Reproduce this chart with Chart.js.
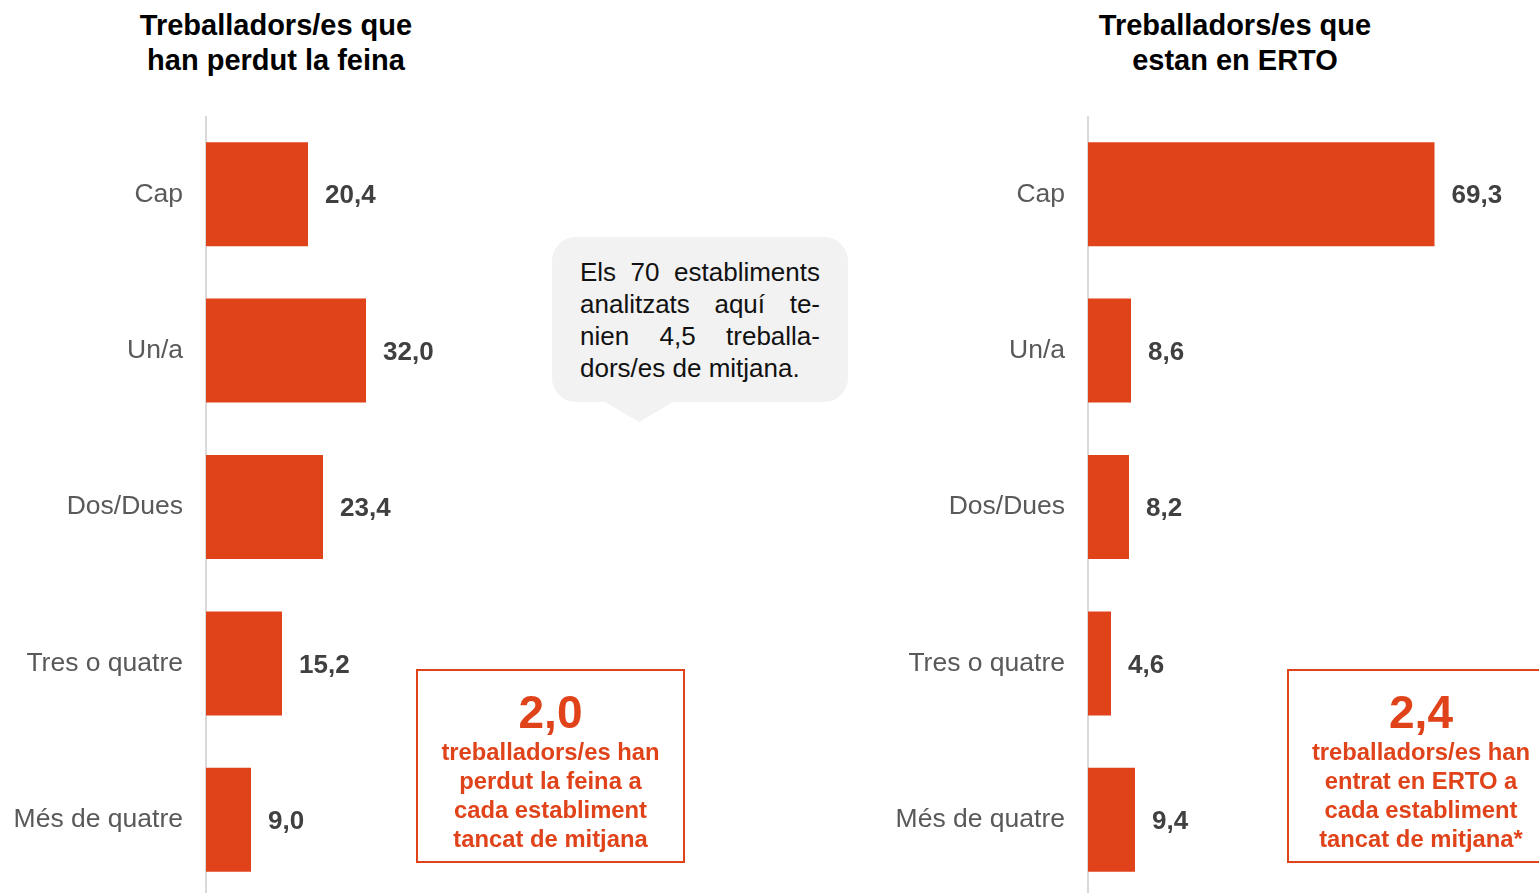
<!DOCTYPE html>
<html>
  <head>
    <meta charset="UTF-8" />
    <title>Treballadors/es</title>
    <script src="https://cdn.jsdelivr.net/npm/chart.js"></script>
    <style>
      html,
      body {
        margin: 0;
        padding: 0;
        width: 1539px;
        height: 893px;
        overflow: hidden;
        background: #fff;
        font-family: "Liberation Sans", Arial, sans-serif;
      }

      .title {
        position: absolute;
        top: 8px;
        width: 400px;
        text-align: center;
        font-weight: bold;
        font-size: 29px;
        line-height: 35px;
        color: #000;
      }

      .chart-wrap {
        position: absolute;
        top: 116px;
        height: 782px;
      }

      .bubble {
        position: absolute;
        left: 552px;
        top: 237px;
        width: 296px;
        height: 165px;
        background: #f2f2f2;
        border-radius: 24px;
      }

      .bubble::after {
        content: "";
        position: absolute;
        left: 53px;
        top: 165px;
        border-left: 34px solid transparent;
        border-right: 34px solid transparent;
        border-top: 20px solid #f2f2f2;
      }

      .bubble .txt {
        position: absolute;
        left: 28px;
        top: 19px;
        width: 240px;
        font-size: 26px;
        line-height: 32px;
        color: #111;
      }

      .bubble .txt div {
        text-align: justify;
        text-align-last: justify;
      }

      .bubble .txt div.last {
        text-align-last: left;
      }

      .note {
        position: absolute;
        top: 669px;
        height: 194px;
        border: 2px solid #e0431a;
        padding-top: 16px;
        box-sizing: border-box;
        text-align: center;
        color: #e0431a;
        font-weight: bold;
      }

      .note .big {
        font-size: 46px;
        line-height: 50px;
      }

      .note .small {
        font-size: 23.8px;
        line-height: 29px;
        white-space: nowrap;
      }
    </style>
  </head>

  <body>
    <div class="title" style="left: 76px">
      Treballadors/es que<br />han perdut la feina
    </div>
    <div class="title" style="left: 1035px">
      Treballadors/es que<br />estan en ERTO
    </div>

    <div class="chart-wrap" style="left: 0; width: 540px">
      <canvas id="chartLeft"></canvas>
    </div>
    <div class="chart-wrap" style="left: 882px; width: 657px">
      <canvas id="chartRight"></canvas>
    </div>

    <!-- Callout bubble -->
    <div class="bubble">
      <div class="txt">
        <div>Els 70 establiments</div>
        <div>analitzats aquí te-</div>
        <div>nien 4,5 treballa-</div>
        <div class="last">dors/es de mitjana.</div>
      </div>
    </div>

    <!-- Highlight boxes -->
    <div class="note" style="left: 416px; width: 269px">
      <div class="big">2,0</div>
      <div class="small">treballadors/es han</div>
      <div class="small">perdut la feina a</div>
      <div class="small">cada establiment</div>
      <div class="small">tancat de mitjana</div>
    </div>
    <div class="note" style="left: 1287px; width: 268px">
      <div class="big">2,4</div>
      <div class="small">treballadors/es han</div>
      <div class="small">entrat en ERTO a</div>
      <div class="small">cada establiment</div>
      <div class="small">tancat de mitjana*</div>
    </div>

    <script>
      const categories = ["Cap", "Un/a", "Dos/Dues", "Tres o quatre", "Més de quatre"];
      const lostJob = [20.4, 32.0, 23.4, 15.2, 9.0];
      const inErto = [69.3, 8.6, 8.2, 4.6, 9.4];

      const BAR_COLOR = "#e0431a";
      const PX_PER_UNIT = 5;
      const AXIS_WIDTH = 206;

      // Draws the value next to each bar, with a decimal comma
      const valueLabels = {
        id: "valueLabels",
        afterDatasetsDraw(chart) {
          const ctx = chart.ctx;
          const meta = chart.getDatasetMeta(0);
          const data = chart.data.datasets[0].data;
          ctx.save();
          ctx.font = "bold 26px 'Liberation Sans', Arial, sans-serif";
          ctx.fillStyle = "#404040";
          ctx.textAlign = "left";
          ctx.textBaseline = "middle";
          meta.data.forEach((bar, i) => {
            ctx.fillText(data[i].toFixed(1).replace(".", ","), bar.x + 17, bar.y + 2);
          });
          ctx.restore();
        },
      };

      function makeChart(id, values, width) {
        const ctx = document.getElementById(id).getContext("2d");
        return new Chart(ctx, {
          type: "bar",
          data: {
            labels: categories,
            datasets: [
              {
                data: values,
                backgroundColor: BAR_COLOR,
                borderWidth: 0,
                categoryPercentage: 1,
                barPercentage: 0.665,
              },
            ],
          },
          options: {
            indexAxis: "y",
            responsive: true,
            maintainAspectRatio: false,
            animation: false,
            layout: { padding: 0 },
            plugins: {
              legend: { display: false },
              tooltip: { enabled: false },
            },
            scales: {
              x: {
                display: false,
                min: 0,
                max: (width - AXIS_WIDTH) / PX_PER_UNIT,
              },
              y: {
                grid: { display: false, drawTicks: false },
                border: { display: true, color: "#d9d9d9", width: 2 },
                ticks: {
                  color: "#595959",
                  padding: 23,
                  font: { family: "'Liberation Sans', Arial, sans-serif", size: 26.5 },
                },
                afterFit(scale) {
                  scale.width = AXIS_WIDTH;
                  scale.paddingTop = 0;
                  scale.paddingBottom = 0;
                },
              },
            },
          },
          plugins: [valueLabels],
        });
      }

      makeChart("chartLeft", lostJob, 540);
      makeChart("chartRight", inErto, 657);
    </script>
  </body>
</html>
